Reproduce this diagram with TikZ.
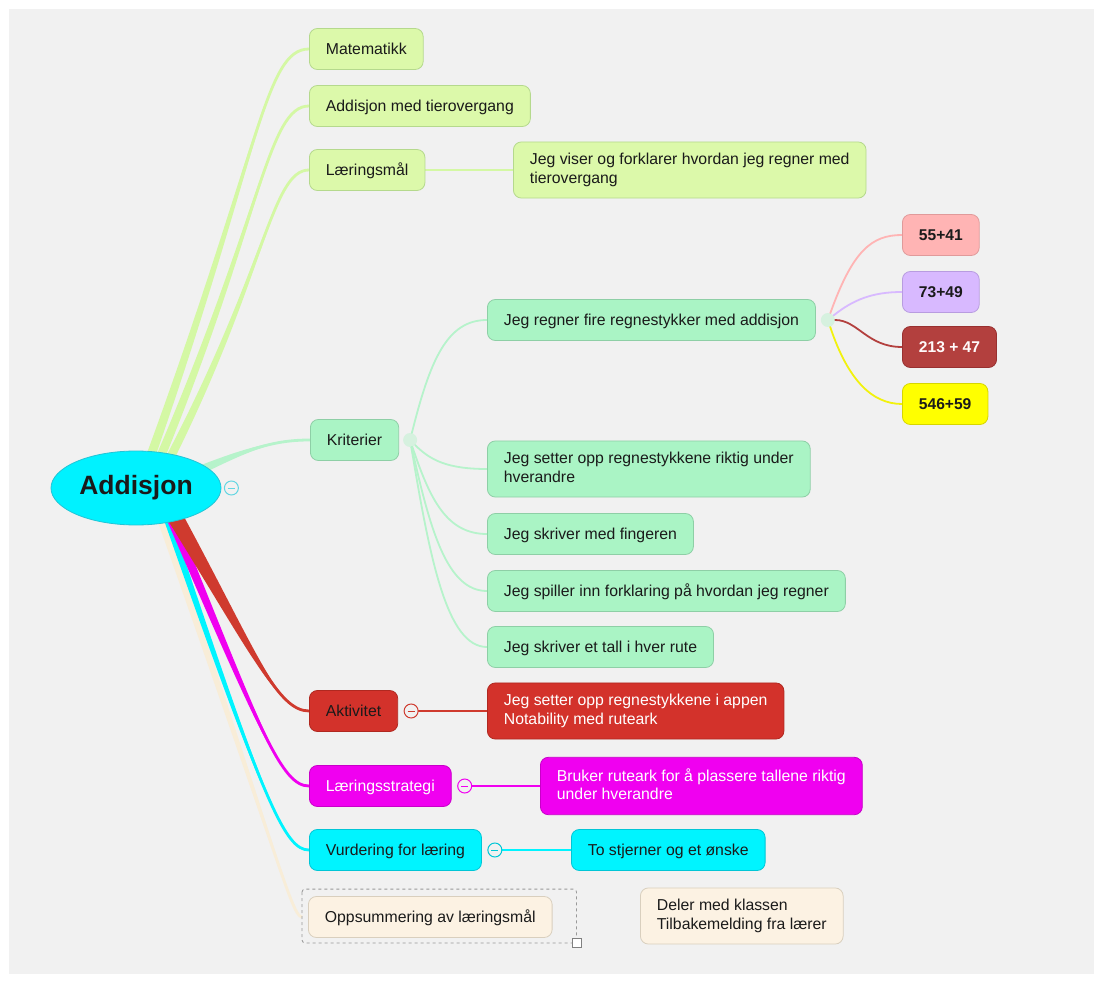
\documentclass[tikz,border=0pt]{standalone}
\usepackage{fontspec}
\setmainfont{Liberation Sans}
\usetikzlibrary{shapes.geometric,calc,backgrounds}

\definecolor{paper}{HTML}{F1F1F1}
\definecolor{ink}{HTML}{1A1A1A}
\definecolor{rootfill}{HTML}{00F2FF}
\definecolor{rootline}{HTML}{22C4D6}
\definecolor{limefill}{HTML}{DCF9AA}
\definecolor{limeline}{HTML}{B5D98D}
\definecolor{limelink}{HTML}{D4F8A4}
\definecolor{mintfill}{HTML}{AAF4C5}
\definecolor{mintline}{HTML}{8ECFA6}
\definecolor{mintlink}{HTML}{B6F3CB}
\definecolor{pinkfill}{HTML}{FFB4B4}
\definecolor{pinkline}{HTML}{E09A9A}
\definecolor{lilacfill}{HTML}{D8B9FF}
\definecolor{lilacline}{HTML}{B89CE0}
\definecolor{winefill}{HTML}{B3403E}
\definecolor{wineline}{HTML}{983030}
\definecolor{yellowfill}{HTML}{FFFF00}
\definecolor{yellowline}{HTML}{D6D600}
\definecolor{redfill}{HTML}{D3322B}
\definecolor{redline}{HTML}{B02820}
\definecolor{redlink}{HTML}{CF3A2E}
\definecolor{magfill}{HTML}{F000F0}
\definecolor{magline}{HTML}{C800C8}
\definecolor{cyanfill}{HTML}{00F4FF}
\definecolor{cyanline}{HTML}{00C6D6}
\definecolor{creamfill}{HTML}{FCF2E3}
\definecolor{creamline}{HTML}{D9CFBE}
\definecolor{creamlink}{HTML}{F8EDD8}

% strut that keeps the capitals in the middle of a box
\newcommand\boxstrut{\rule[-3.65pt]{0pt}{18.5pt}}

% tapered branch from the root: colour, start, control 1, control 2, end, half width
\newcommand\branch[6]{%
  \fill[#1] ($(#2)+(#6)$) .. controls ($(#3)+0.4*(#6)$) and (#4) .. (#5)
    .. controls (#4) and ($(#3)-0.4*(#6)$) .. ($(#2)-(#6)$) -- cycle;
  \draw[#1, line width=2.8pt] (#2) .. controls (#3) and (#4) .. (#5);
}

\tikzset{
  box/.style={rounded corners=8pt, line width=0.8pt, inner xsep=16.5pt, inner ysep=11.25pt,
    minimum height=41pt, align=left, anchor=west, text=ink,
    font=\fontsize{15.8}{18.5}\selectfont,
    execute at begin node=\boxstrut, execute at end node=\boxstrut},
  lime/.style={box, fill=limefill, draw=limeline},
  mint/.style={box, fill=mintfill, draw=mintline},
  num/.style={box, font=\fontsize{15.6}{18.5}\selectfont\bfseries},
  redbox/.style={box, fill=redfill, draw=redline},
  magbox/.style={box, fill=magfill, draw=magline, text=white},
  cyanbox/.style={box, fill=cyanfill, draw=cyanline},
  creambox/.style={box, fill=creamfill, draw=creamline},
  link/.style={line width=1.8pt, line cap=round},
  fold/.style={circle, draw=#1, line width=1pt, minimum size=14pt, inner sep=0pt,
    path picture={\draw[#1, line width=1pt]
      ([xshift=-3.5pt]path picture bounding box.center) --
      ([xshift=3.5pt]path picture bounding box.center);}},
  hub/.style={circle, fill=#1, fill opacity=0.45, minimum size=14pt, inner sep=0pt},
  frame/.style={draw=gray!80, dashed, line width=0.8pt, rounded corners=3pt},
}

\begin{document}
\begin{tikzpicture}[x=1pt, y=-1pt]
\useasboundingbox (0,0) rectangle (1103,981);
\begin{scope}[on background layer]
  \fill[white] (0,0) rectangle (1103,981);
  \fill[paper] (9,9) rectangle (1094,974);
\end{scope}

% root
\node[ellipse, fill=rootfill, draw=rootline, line width=0.8pt, minimum width=170pt,
  minimum height=74pt, inner sep=0pt, text=ink,
  font=\fontsize{26.5}{30}\selectfont\bfseries] (root) at (136,488) {Addisjon};
\node[fold=rootline!70] (rootfold) at ([xshift=10pt]root.east) {};

% goal
\node[lime] (mat) at (309,49) {Matematikk};
\node[lime] (adm) at (309,106) {Addisjon med tierovergang};
\node[lime] (lmaal) at (309,170) {Læringsmål};
\node[lime] (viser) at (513,170) {Jeg viser og forklarer hvordan jeg regner med\\tierovergang};

% criteria
\node[mint] (krit) at (310,440) {Kriterier};
\node[hub=mintlink] (krithub) at ([xshift=11pt]krit.east) {};
\node[mint] (regner) at (487,320) {Jeg regner fire regnestykker med addisjon};
\node[hub=mintlink] (reghub) at ([xshift=12pt]regner.east) {};
\node[mint] (setter) at (487,469) {Jeg setter opp regnestykkene riktig under\\hverandre};
\node[mint] (finger) at (487,534) {Jeg skriver med fingeren};
\node[mint] (spiller) at (487,591) {Jeg spiller inn forklaring på hvordan jeg regner};
\node[mint] (tall) at (487,647) {Jeg skriver et tall i hver rute};

\node[num, fill=pinkfill, draw=pinkline] (n1) at (902,235) {55+41};
\node[num, fill=lilacfill, draw=lilacline] (n2) at (902,292) {73+49};
\node[num, fill=winefill, draw=wineline, text=white!92!pink] (n3) at (902,347) {213 + 47};
\node[num, fill=yellowfill, draw=yellowline] (n4) at (902,404) {546+59};

% activity, strategy, assessment
\node[redbox] (akt) at (309,711) {Aktivitet};
\node[fold=redlink] (aktfold) at ([xshift=13pt]akt.east) {};
\node[redbox, text=white] (aktc) at (487,711) {Jeg setter opp regnestykkene i appen\\Notability med ruteark};

\node[magbox] (strat) at (309,786) {Læringsstrategi};
\node[fold=magfill] (stratfold) at ([xshift=13pt]strat.east) {};
\node[magbox] (stratc) at (540,786) {Bruker ruteark for å plassere tallene riktig\\under hverandre};

\node[cyanbox] (vurd) at (309,850) {Vurdering for læring};
\node[fold=cyanline] (vurdfold) at ([xshift=13pt]vurd.east) {};
\node[cyanbox] (vurdc) at (571,850) {To stjerner og et ønske};

\node[creambox] (opps) at (308,917) {Oppsummering av læringsmål};
\node[creambox] (deler) at (640,916) {Deler med klassen\\Tilbakemelding fra lærer};
\coordinate (grip) at ($(opps.south east)+(24,5)$);
\coordinate (oppsin) at ($(opps.west)+(-6,0)$);
\draw[frame] ($(opps.north west)+(-6,-7)$) rectangle (grip);
\node[draw=gray, fill=white, line width=0.8pt, minimum size=9pt, inner sep=0pt] at (grip) {};

\begin{scope}[on background layer]
  \branch{limelink}{150,458}{260,150}{265,49}{mat.west}{4.8,0}
  \branch{limelink}{160,458}{262,215}{268,106}{adm.west}{4.8,0}
  \branch{limelink}{170,458}{266,270}{272,170}{lmaal.west}{4.8,0}
  \branch{mintlink}{196,472}{250,448}{275,440}{krit.west}{0,5}
  \branch{creamlink}{160,515}{282,870}{292,916}{oppsin}{4,-1.2}
  \branch{cyanfill}{166,515}{265,805}{285,850}{vurd.west}{3.4,-1.1}
  \branch{magfill}{170,515}{262,735}{282,786}{strat.west}{4.5,-2}
  \branch{redlink}{174,515}{255,655}{278,711}{akt.west}{6.8,-4.2}

  \draw[link, limelink] (lmaal.east) -- (viser.west);
  \draw[link, mintlink] (krithub) .. controls +(20,-80) and +(-40,0) .. (regner.west);
  \foreach \kid/\drop in {setter/20, finger/60, spiller/90, tall/120}
    \draw[link, mintlink] (krithub) .. controls +(20,\drop) and +(-40,0) .. (\kid.west);

  \draw[link, pinkfill] (reghub) .. controls +(25,-70) and +(-30,0) .. (n1.west);
  \draw[link, lilacfill] (reghub) .. controls +(25,-20) and +(-30,0) .. (n2.west);
  \draw[link, winefill] (reghub) .. controls +(30,0) and +(-35,0) .. (n3.west);
  \draw[link, yellowfill!90!gray] (reghub) .. controls +(20,60) and +(-30,0) .. (n4.west);

  \draw[link, redlink] (aktfold) -- (aktc.west);
  \draw[link, magfill] (stratfold) -- (stratc.west);
  \draw[link, cyanfill] (vurdfold) -- (vurdc.west);
\end{scope}
\end{tikzpicture}
\end{document}
